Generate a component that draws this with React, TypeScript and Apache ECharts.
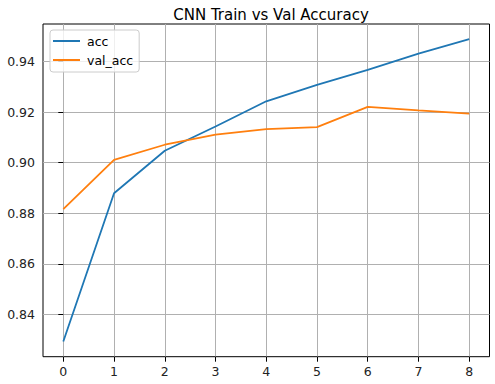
import React, { useEffect, useRef } from "react";
import * as echarts from "echarts";

const epochs = [0, 1, 2, 3, 4, 5, 6, 7, 8];
const acc = [0.8292, 0.8879, 0.9047, 0.9143, 0.9243, 0.9308, 0.9367, 0.9432, 0.9489];
const valAcc = [0.8816, 0.9011, 0.9071, 0.9111, 0.9133, 0.9141, 0.9221, 0.9207, 0.9194];
const xTicks = [0, 1, 2, 3, 4, 5, 6, 7, 8];
const yTicks = [0.84, 0.86, 0.88, 0.9, 0.92, 0.94];

const FONT = "DejaVu Sans";

export default function App() {
  const ref = useRef<HTMLDivElement>(null);
  useEffect(() => {
    if (!ref.current) return;
    const chart = echarts.init(ref.current, null, { renderer: "svg" });
    const allVals = acc.concat(valAcc);
    const lo = Math.min(...allVals);
    const hi = Math.max(...allVals);
    const pad = (hi - lo) * 0.05;
    chart.setOption({
      animation: false,
      backgroundColor: "#ffffff",
      title: {
        text: "CNN Train vs Val Accuracy",
        left: 266,
        textAlign: "center",
        top: 2,
        textStyle: { fontFamily: FONT, fontSize: 15, fontWeight: "normal", color: "#000" },
      },
      legend: {
        orient: "vertical",
        left: 50,
        top: 30,
        padding: [4, 6, 5, 3],
        itemWidth: 27,
        itemHeight: 2,
        itemGap: 5,
        icon: "rect",
        borderColor: "#cccccc",
        borderWidth: 1,
        borderRadius: 3,
        backgroundColor: "rgba(255,255,255,0.8)",
        textStyle: { fontFamily: FONT, fontSize: 12.5, color: "#000", lineHeight: 14, padding: [0, 0, 0, 2] },
        data: ["acc", "val_acc"],
      },
      grid: {
        left: 43,
        right: 5.5,
        top: 24,
        bottom: 27.3,
        show: true,
        borderColor: "#000",
        borderWidth: 1,
        backgroundColor: "transparent",
      },
      xAxis: {
        type: "value",
        min: -0.4,
        max: 8.4,
        axisLine: { show: false },
        axisTick: { show: true, inside: false, length: 5, lineStyle: { color: "#000" }, customValues: xTicks },
        axisLabel: { customValues: xTicks, fontFamily: FONT, fontSize: 12.5, color: "#222", margin: 8, formatter: (v: number) => String(v) },
        splitLine: { show: true, lineStyle: { color: "#b0b0b0", width: 1 } },
      },
      yAxis: {
        type: "value",
        min: lo - pad,
        max: hi + pad,
        axisLine: { show: false },
        axisTick: { show: true, inside: false, length: 5, lineStyle: { color: "#000" }, customValues: yTicks },
        axisLabel: { customValues: yTicks, fontFamily: FONT, fontSize: 12.5, color: "#222", margin: 8, formatter: (v: number) => v.toFixed(2) },
        splitLine: { show: true, lineStyle: { color: "#b0b0b0", width: 1 } },
      },
      series: [
        {
          name: "acc",
          type: "line",
          data: epochs.map((e, i) => [e, acc[i]]),
          showSymbol: false,
          symbol: "none",
          lineStyle: { color: "#1f77b4", width: 1.8 },
          itemStyle: { color: "#1f77b4" },
        },
        {
          name: "val_acc",
          type: "line",
          data: epochs.map((e, i) => [e, valAcc[i]]),
          showSymbol: false,
          symbol: "none",
          lineStyle: { color: "#ff7f0e", width: 1.8 },
          itemStyle: { color: "#ff7f0e" },
        },
      ],
    });
    return () => chart.dispose();
  }, []);
  return <div ref={ref} style={{ position: "fixed", left: 0, top: 0, width: 495, height: 384 }} />;
}
